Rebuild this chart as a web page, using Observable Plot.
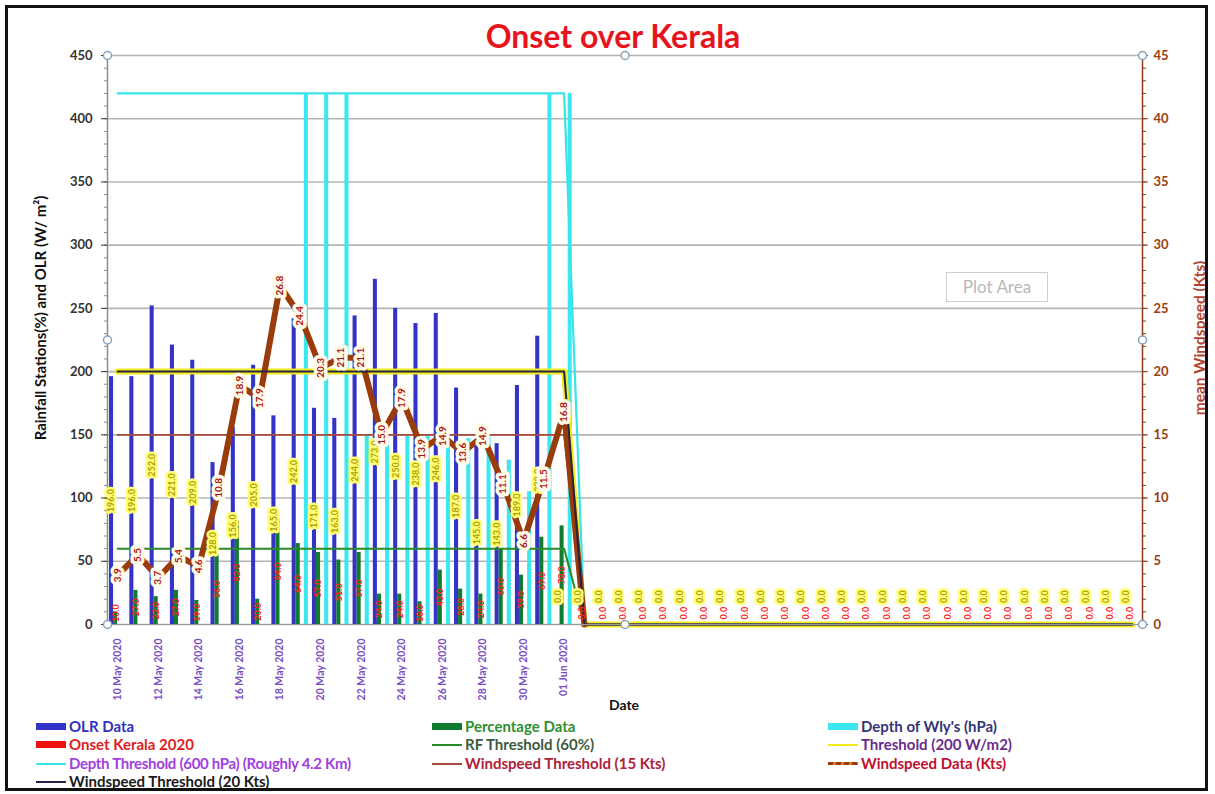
<!DOCTYPE html>
<html><head><meta charset="utf-8">
<script src="https://cdn.jsdelivr.net/npm/d3@7"></script>
<script src="https://cdn.jsdelivr.net/npm/@observablehq/plot@0.6"></script>
<style>
body{margin:0;background:#fff;font-family:Lato,"Open Sans",sans-serif;}
#wrap{position:relative;width:1215px;height:794px;overflow:hidden;background:#fff;}
#chart{position:absolute;left:0;top:0;}
#frame{position:absolute;left:5px;top:5px;width:1203px;height:786px;border:3px solid #111;box-sizing:border-box;pointer-events:none;}
.t{position:absolute;white-space:nowrap;font-weight:bold;}
.rot{transform:translate(-50%,-50%) rotate(-90deg);}
.lg{position:absolute;white-space:nowrap;font-weight:bold;font-size:15px;line-height:17px;display:flex;align-items:center;}
.sw{display:inline-block;width:30px;margin-right:3px;}
#plotarea{position:absolute;left:946px;top:272px;width:102px;height:30px;border:1px solid #cfcfcf;box-sizing:border-box;color:#b8b8b8;font-size:17px;line-height:28px;text-align:center;background:#fff;}
</style></head>
<body><div id="wrap"><div id="chart"></div>
<div class="t" style="left:0;top:17px;width:1226px;text-align:center;font-size:32px;line-height:38px;color:#e8141c;">Onset over Kerala</div>
<div class="t rot" style="left:40px;top:318px;font-size:15px;color:#111;">Rainfall Stations(%) and OLR (W/ m²)</div>
<div class="t rot" style="left:1199px;top:338px;font-size:15.5px;color:#b3432a;">mean Windspeed (Kts)</div>
<div class="t" style="left:624px;top:704px;transform:translate(-50%,-50%);font-size:14px;color:#111;">Date</div>
<div id="plotarea">Plot Area</div>
<div id="legend"></div>
<div id="frame"></div>
</div>
<script>
// ---- data ----
const dates = ["10 May 2020","11 May 2020","12 May 2020","13 May 2020","14 May 2020","15 May 2020","16 May 2020","17 May 2020","18 May 2020","19 May 2020","20 May 2020","21 May 2020","22 May 2020","23 May 2020","24 May 2020","25 May 2020","26 May 2020","27 May 2020","28 May 2020","29 May 2020","30 May 2020","31 May 2020","01 Jun 2020",
"","","","","","","","","","","","","","","","","","","","","","","","","","","",""];
const olr = [196,196,252,221,209,128,156,205,165,242,171,163,244,273,250,238,246,187,145,143,189,228,0,
0,0,0,0,0,0,0,0,0,0,0,0,0,0,0,0,0,0,0,0,0,0,0,0,0,0,0,0];
const percentage = [10,27,22,27,19,56,82,20,84,64,57,51,57,24,24,18,43,28,24,60,39,69,78,
0,0,0,0,0,0,0,0,0,0,0,0,0,0,0,0,0,0,0,0,0,0,0,0,0,0,0,0];
const depthWly = [0,0,0,0,0,0,0,0,0,420,420,420,150,148,150,150,148,147,148,130,105,420,420,
0,0,0,0,0,0,0,0,0,0,0,0,0,0,0,0,0,0,0,0,0,0,0,0,0,0,0,0];
const onset = [0,0,0,0,0,0,0,0,0,0,0,0,0,0,0,0,0,0,0,0,0,0,0,
0,0,0,0,0,0,0,0,0,0,0,0,0,0,0,0,0,0,0,0,0,0,0,0,0,0,0,0];
const windspeed = [3.9,5.5,3.7,5.4,4.6,10.8,18.9,17.9,26.8,24.4,20.3,21.1,21.1,15.0,17.9,13.9,14.9,13.6,14.9,11.1,6.6,11.5,16.8,0];
const rfThreshold = [60,60,60,60,60,60,60,60,60,60,60,60,60,60,60,60,60,60,60,60,60,60,60,
0,0,0,0,0,0,0,0,0,0,0,0,0,0,0,0,0,0,0,0,0,0,0,0,0,0,0,0];
const olrThreshold = [200,200,200,200,200,200,200,200,200,200,200,200,200,200,200,200,200,200,200,200,200,200,200,
0,0,0,0,0,0,0,0,0,0,0,0,0,0,0,0,0,0,0,0,0,0,0,0,0,0,0,0];
const depthThreshold = [420,420,420,420,420,420,420,420,420,420,420,420,420,420,420,420,420,420,420,420,420,420,420,
0,0,0,0,0,0,0,0,0,0,0,0,0,0,0,0,0,0,0,0,0,0,0,0,0,0,0,0];
const wind15 = [15,15,15,15,15,15,15,15,15,15,15,15,15,15,15,15,15,15,15,15,15,15,15,
0,0,0,0,0,0,0,0,0,0,0,0,0,0,0,0,0,0,0,0,0,0,0,0,0,0,0,0];
const wind20 = [20,20,20,20,20,20,20,20,20,20,20,20,20,20,20,20,20,20,20,20,20,20,20,
0,0,0,0,0,0,0,0,0,0,0,0,0,0,0,0,0,0,0,0,0,0,0,0,0,0,0,0];
const leftTicks = [0,50,100,150,200,250,300,350,400,450];
const rightTicks = [0,5,10,15,20,25,30,35,40,45];

// ---- chart ----
const leftMax = 450, rightMax = 45, k = leftMax / rightMax;
const idx = d3.range(dates.length);
const wIdx = d3.range(windspeed.length);
const labelIdx = idx.filter(i => dates[i] !== "" && i % 2 === 0);
const xd = [-0.5, dates.length - 0.5];
const handles = [[xd[0],leftMax],[(xd[0]+xd[1])/2,leftMax],[xd[1],leftMax],[xd[0],leftMax/2],[xd[1],leftMax/2],[xd[0],0],[(xd[0]+xd[1])/2,0],[xd[1],0]];
const bw = 0.2;

const chart = Plot.plot({
  width: 1215, height: 720,
  marginLeft: 107, marginRight: 73, marginTop: 55, marginBottom: 96,
  x: {type: "linear", domain: xd},
  y: {domain: [0, leftMax]},
  style: {fontFamily: "Lato, 'Open Sans', sans-serif", background: "transparent"},
  marks: [
    Plot.ruleY(leftTicks, {stroke: "#b4b4b4", strokeWidth: 1.6}),
    // bars
    Plot.rect(idx, {x1: i => i - 2*bw, x2: i => i - bw, y1: 0, y2: i => olr[i], fill: "#3333c8"}),
    Plot.rect(idx, {x1: i => i - bw, x2: i => i, y1: 0, y2: i => percentage[i], fill: "#0f7a30"}),
    Plot.rect(idx, {x1: i => i, x2: i => i + bw, y1: 0, y2: i => onset[i], fill: "#ee1111"}),
    Plot.rect(idx, {x1: i => i + bw, x2: i => i + 2*bw, y1: 0, y2: i => depthWly[i], fill: "#3ce8f0"}),
    // axes lines
    Plot.ruleX([xd[0]], {stroke: "#8c8c8c", strokeWidth: 1.5}),
    Plot.ruleX([xd[1]], {stroke: "#8b3a1a", strokeWidth: 1.5}),
    // threshold lines
    Plot.line(idx, {x: i => i, y: i => rfThreshold[i], stroke: "#2a8a2a", strokeWidth: 2}),
    Plot.line(idx, {x: i => i, y: i => olrThreshold[i], stroke: "#f4ec1a", strokeWidth: 6}),
    Plot.line(idx, {x: i => i, y: i => depthThreshold[i], stroke: "#38e4ea", strokeWidth: 2.2}),
    Plot.line(idx, {x: i => i, y: i => wind15[i] * k, stroke: "#a84a3c", strokeWidth: 1.8}),
    Plot.line(wIdx, {x: i => i, y: i => windspeed[i] * k, stroke: "#9a3b0c", strokeWidth: 6, strokeLinejoin: "round"}),
    Plot.dot(wIdx, {x: i => i, y: i => windspeed[i] * k, r: 2.5, fill: "#c86018", symbol: "triangle"}),
    Plot.line(idx, {x: i => i, y: i => wind20[i] * k, stroke: "#23234a", strokeWidth: 2}),
    Plot.ruleY([0], {stroke: "#9a9a9a", strokeWidth: 1}),
    // data labels
    Plot.text(idx, {x: i => i - 1.5*bw, y: i => Math.max(olr[i] / 2, 22), text: i => olr[i].toFixed(1), rotate: -90,
      fontSize: 9, fontWeight: "bold", fill: "#b0a000", stroke: "#ffff78", strokeWidth: 5}),
    Plot.text(idx, {x: i => i - 0.5*bw, y: i => Math.max(percentage[i] / 2, 9), text: i => percentage[i].toFixed(1), rotate: -90,
      fontSize: 9, fontWeight: "bold", fill: "#ff2020"}),
    Plot.text(wIdx.slice(0, windspeed.length - 1), {x: i => i, y: i => windspeed[i] * k, text: i => windspeed[i].toFixed(1), rotate: -90,
      fontSize: 10, fontWeight: "bold", fill: "#b01010", stroke: "#fffbe8", strokeWidth: 7}),
    // axes
    Plot.axisY(d3.range(0, leftMax + 1, 10), {anchor: "left", tickSize: 3, tickFormat: () => "", label: null, stroke: "#8c8c8c"}),
    Plot.axisY(leftTicks, {anchor: "left", tickSize: 6, tickPadding: 9, fontSize: 13, fontWeight: "bold", color: "#333", label: null}),
    Plot.axisY(d3.range(0, leftMax + 1, 10), {anchor: "right", tickSize: 3, tickFormat: () => "", label: null, stroke: "#8b3a1a"}),
    Plot.axisY(rightTicks.map(v => v * k), {anchor: "right", tickSize: 5, tickPadding: 6, tickFormat: v => v / k, fontSize: 13, fontWeight: "bold", color: "#9c3d14", label: null}),
    Plot.axisX(labelIdx, {anchor: "bottom", tickSize: 0, tickPadding: 14, tickRotate: -90, tickFormat: i => dates[i], fontSize: 10.5, fontWeight: "bold", color: "#7a4fc4", label: null}),
    // selection handles
    Plot.dot(handles, {x: d => d[0], y: d => d[1], r: 4, fill: "#fff", stroke: "#8aa2bc", strokeWidth: 1.5})
  ]
});
document.getElementById("chart").appendChild(chart);

// ---- legend ----
const legendItems = [
  {col: 0, row: 0, label: "OLR Data", color: "#3030c0", sw: "bar", swc: "#3333c8"},
  {col: 1, row: 0, label: "Percentage Data", color: "#2f8f2f", sw: "bar", swc: "#0f7a30"},
  {col: 2, row: 0, label: "Depth of Wly's (hPa)", color: "#34347a", sw: "bar", swc: "#3ce8f0"},
  {col: 0, row: 1, label: "Onset Kerala 2020", color: "#e02020", sw: "bar", swc: "#ee1111"},
  {col: 1, row: 1, label: "RF Threshold (60%)", color: "#3c5a3c", sw: "line", swc: "#2a8a2a"},
  {col: 2, row: 1, label: "Threshold (200 W/m2)", color: "#6a2c8c", sw: "line", swc: "#f4ec1a"},
  {col: 0, row: 2, label: "Depth Threshold (600 hPa)  (Roughly 4.2 Km)", color: "#a040e0", sw: "line", swc: "#38e4ea"},
  {col: 1, row: 2, label: "Windspeed Threshold (15 Kts)", color: "#b0203a", sw: "line", swc: "#a84a3c"},
  {col: 2, row: 2, label: "Windspeed Data (Kts)", color: "#c01030", sw: "data", swc: "#9a3b0c"},
  {col: 0, row: 3, label: "Windspeed Threshold (20 Kts)", color: "#1a1a1a", sw: "line", swc: "#23234a"}
];
const colX = [36, 432, 828], rowY = [718, 736, 755, 773];
const lg = document.getElementById("legend");
for (const it of legendItems) {
  const d = document.createElement("div");
  d.className = "lg";
  d.style.left = colX[it.col] + "px";
  d.style.top = rowY[it.row] + "px";
  d.style.color = it.color;
  const s = document.createElement("span");
  s.className = "sw";
  if (it.sw === "bar") { s.style.height = "7px"; s.style.background = it.swc; }
  else if (it.sw === "line") { s.style.height = "2px"; s.style.background = it.swc; }
  else { s.style.height = "3px"; s.style.background = `repeating-linear-gradient(90deg, ${it.swc} 0 5px, #e07a20 5px 8px)`; }
  d.appendChild(s);
  const t = document.createElement("span");
  t.textContent = it.label.replace(/ {2}/g, " ");
  if (it.row === 2 && it.col === 0) t.style.letterSpacing = "-0.3px";
  d.appendChild(t);
  lg.appendChild(d);
}
</script></body></html>
